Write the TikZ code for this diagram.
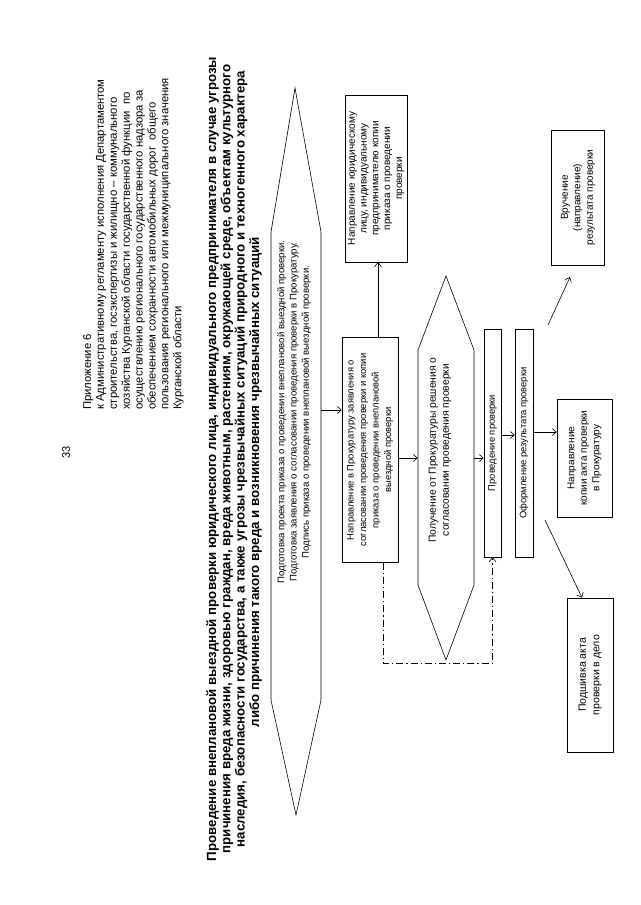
\documentclass[tikz,border=0pt]{standalone}
\usepackage{fontspec}
\setmainfont{Liberation Sans}
\usetikzlibrary{arrows.meta}
\begin{document}
\begin{tikzpicture}[x=1pt,y=-1pt,
  ln/.style={line width=0.6pt},
  box/.style={draw, line width=0.6pt, rotate=90, align=center, inner sep=1pt, font=\fontsize{9.4}{12.5}\selectfont},
  lbl/.style={rotate=90, align=center, inner sep=0pt, font=\fontsize{9.4}{12.5}\selectfont},
  arr/.style={line width=0.6pt, -{Straight Barb[length=4pt,width=7pt]}},
  dd/.style={line width=0.6pt, dash pattern=on 7pt off 3pt on 1.2pt off 3pt, -{Straight Barb[length=4pt,width=7pt]}}]
\useasboundingbox[fill=white] (0,0) rectangle (640,905);
% page number and header
\node[rotate=90, inner sep=0pt, font=\fontsize{11}{13}\selectfont] (num) at (66,452) {33};
\node[rotate=90, anchor=north west, inner sep=0pt, align=left, font=\fontsize{11.3}{12.9}\selectfont] (head) at (83,410)
{Приложение 6\\
к Административному регламенту исполнения Департаментом\\
строительства, госэкспертизы и жилищно – коммунального\\
хозяйства Курганской области государственной функции~ по\\
осуществлению регионального государственного надзора за\\
обеспечением сохранности автомобильных дорог~ общего\\
пользования регионального или межмуниципального значения\\
Курганской области};
% title
\node[rotate=90, inner sep=0pt, align=center, font=\bfseries\fontsize{13.3}{14.3}\selectfont] (title) at (234,459)
{Проведение внеплановой выездной проверки юридического лица, индивидуального предпринимателя в случае угрозы\\
причинения вреда жизни, здоровью граждан, вреда животным, растениям, окружающей среде, объектам культурного\\
наследия, безопасности государства, а также угрозы чрезвычайных ситуаций природного и техногенного характера\\
либо причинения такого вреда и возникновения чрезвычайных ситуаций\hspace*{46pt}};
% first hexagon
\node[lbl, minimum width=468, minimum height=50] (hexA) at (296,466) {};
\draw[ln] (295,88) -- (321,232) -- (321,700) -- (296,815) -- (271,700) -- (271,232) -- cycle;
\node[lbl, font=\fontsize{9.6}{12.3}\selectfont] (hexT) at (294,412)
{Подготовка проекта приказа о проведении внеплановой выездной проверки.\\
Подготовка заявления о согласовании проведения проверки в Прокуратуру.\\
Подпись приказа о проведении внеплановой выездной проверки.};
% boxes
\node[box, minimum width=225, minimum height=56] (box2) at (370,450)
{Направление в Прокуратуру заявления о\\согласовании проведения проверки и копии\\приказа о проведении внеплановой\\выездной проверки};
\node[box, minimum width=167, minimum height=62, font=\fontsize{10}{11.8}\selectfont] (rbox) at (376,178.5)
{Направление юридическому\\лицу, индивидуальному\\предпринимателю копии\\приказа о проведении\\проверки};
% second hexagon
\node[lbl, minimum width=235, minimum height=56] (dia) at (446,467.5) {};
\draw[ln] (446,276) -- (474,350) -- (474,585) -- (446,660) -- (418,585) -- (418,350) -- cycle;
\node[lbl, font=\fontsize{10.3}{13}\selectfont] (diaT) at (440,450)
{Получение от Прокуратуры решения о\\согласовании проведения проверки};
\node[box, minimum width=228, minimum height=17] (prov) at (492.5,443) {Проведение проверки};
\node[box, minimum width=228, minimum height=18] (oform) at (524,443) {Оформление результата проверки};
\node[box, minimum width=118, minimum height=55, font=\fontsize{10}{12.5}\selectfont] (kop) at (584.5,458) {Направление\\копии акта проверки\\в Прокуратуру};
\node[box, minimum width=135, minimum height=53, font=\fontsize{10}{12.5}\selectfont] (vru) at (578,197.5) {Вручение\\(направление)\\результата проверки};
\node[box, minimum width=154, minimum height=46, font=\fontsize{10.5}{13.5}\selectfont] (pod) at (590,675) {Подшивка акта\\проверки в дело};
% connector helpers
\coordinate (r1) at (0,410);
\coordinate (c2) at (378,0);
\coordinate (r3) at (0,458);
\coordinate (r5) at (0,435);
\coordinate (r6) at (0,432);
\coordinate (t7) at (548,325);
\coordinate (h7) at (570,277);
\coordinate (t8) at (545,520);
\coordinate (c8) at (582,0);
\coordinate (d1) at (383,663);
\coordinate (d2) at (492.5,663);
% connectors
\draw[arr] (hexA.south |- r1) -- (box2.north |- r1);
\draw[arr] (box2.east -| c2) -- (rbox.west -| c2);
\draw[arr] (box2.south |- r3) -- (dia.north |- r3);
\draw[arr] (dia.south |- r3) -- (prov.north |- r3);
\draw[arr] (prov.south |- r5) -- (oform.north |- r5);
\draw[arr] (oform.south |- r6) -- (kop.north |- r6);
\draw[arr] (t7) -- (h7);
\draw[arr] (t8) -- (pod.east -| c8);
\draw[dd] (box2.west -| d1) -- (d1) -- (d2) -- (prov.west);
\end{tikzpicture}
\end{document}
